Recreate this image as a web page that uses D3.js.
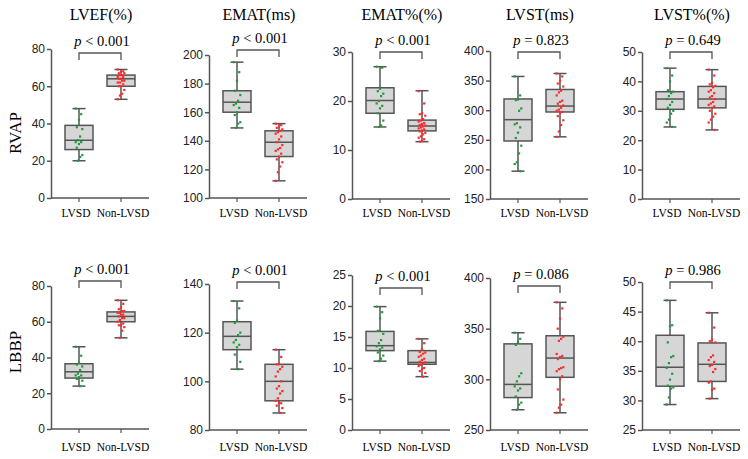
<!DOCTYPE html>
<html><head><meta charset="utf-8">
<script src="https://cdn.jsdelivr.net/npm/d3@7"></script>
<style>body{margin:0;background:#fff}svg{display:block}</style>
</head><body>
<svg id="c" width="748" height="459"></svg>
<script>
const metrics = ["LVEF(%)", "EMAT(ms)", "EMAT%(%)", "LVST(ms)", "LVST%(%)"];
const rowNames = ["RVAP", "LBBP"];
const groups = ["LVSD", "Non-LVSD"];
const pRVAP = ["p < 0.001", "p < 0.001", "p < 0.001", "p = 0.823", "p = 0.649"];
const pLBBP = ["p < 0.001", "p < 0.001", "p < 0.001", "p = 0.086", "p = 0.986"];
const domRVAP = [[0,80],[100,200],[0,30],[150,400],[0,50]];
const domLBBP = [[0,80],[80,140],[0,25],[250,400],[25,50]];
const ticksRVAP = [[0,20,40,60,80],[100,120,140,160,180,200],[0,10,20,30],[150,200,250,300,350,400],[0,10,20,30,40,50]];
const ticksLBBP = [[0,20,40,60,80],[80,100,120,140],[0,5,10,15,20,25],[250,300,350,400],[25,30,35,40,45,50]];

// box stats: [min, q1, median, q3, max]
const rvapLVSDStats = [[20,26,31,39,48],[149,160,167,175,195],[14.7,17.5,20.1,22.7,27],[197,248,284,319,357],[24.5,30.5,34,36.5,44.5]];
const rvapNonStats  = [[53,60,64,66,69],[112,129,139,147,152],[11.7,13.9,14.9,16.1,22.1],[255,297,307,335,362],[23.5,31,34,38.3,44]];
const lbbpLVSDStats = [[24,28.5,32,36.5,46],[105,113,118.5,124.5,133],[11.1,12.8,13.6,15.9,19.9],[270,282,295,335,346],[29.3,32.4,35.6,41,46.9]];
const lbbpNonStats  = [[51,60,63,65.5,72],[87,92,100,107,113],[8.6,10.6,10.9,12.8,14.7],[267,302,321,343,376],[30.3,33.2,36.1,39.7,44.8]];

const rvapLVSDPts = [
  [48,45,42,38,37,33,31,30,30,29,27,23,22,20],
  [195,188,182,175,172,168,166,165,163,160,158,153,152,149],
  [27,26.8,22.5,22,21.5,21,20,19.5,19,18.5,17.5,16,15,14.7],
  [357,325,318,317,303,299,278,276,271,262,253,240,227,212,209,197],
  [44.5,42,40,37,36.5,36,35,34,33,32,31,30,29,27,26,24.5]
];
const rvapNonPts = [
  [69,68,68,67,67,66,66,65,65,64,64,63,63,62,62,61,60,60,58,56,55,53],
  [152,151,150,149,148,147,146,145,143,141,139,137,135,134,133,131,129,127,125,122,118,112],
  [22,19.5,17.5,17.3,17,16.3,16,15.8,15.5,15.3,15.1,15,14.8,14.6,14.4,14.2,14,13.8,13.5,13.2,12.8,12.5,12.2,11.8,11.7],
  [362,357,350,345,340,333,330,325,316,314,311,308,304,301,299,297,296,290,283,275,264,255],
  [44,42,39.5,39,38.5,38,37,36.5,36,35,34.5,34,33,32.5,32,31.5,31,30,29,28,27,26,23.5]
];
const lbbpLVSDPts = [
  [46,41,37,36,35,33,31,30,30,29,28,27,24],
  [133,130,125,124,120,119,117,116,115,114,111,108,105],
  [19.9,19,18,16,15.5,14.5,14,13.5,13.3,13,12.5,12,11.5,11.1],
  [346,340,337,334,306,303,298,293,291,289,283,277,275,270],
  [46.9,42.7,42.5,39.8,37.5,37.3,36.3,35.5,34.5,33.5,32.5,32.2,32,30.5,29.3]
];
const lbbpNonPts = [
  [72,70,68,67,66,66,65,65,64,64,63,62,62,61,60,59,58,58,57,55,51],
  [113,110,107,107,106,105,104,102,100,98,97,96,95,93,92,91,91,90,89,87],
  [14.7,14,13,12.6,12.5,12.3,12,11.8,11.5,11.3,11,10.9,10.7,10.5,10.3,10,9.8,9.5,9.2,8.6],
  [376,370,360,350,342,340,338,325,323,322,320,312,311,310,308,303,300,290,280,275,272,267],
  [44.8,42.3,40.3,40,39.8,37.6,37.3,36.8,36.5,36,35.8,35.3,34.8,33.2,33,32,31.8,30.3]
];

const rowsData = [
  {name: rowNames[0], p: pRVAP, dom: domRVAP, ticks: ticksRVAP, stats: [rvapLVSDStats, rvapNonStats], pts: [rvapLVSDPts, rvapNonPts]},
  {name: rowNames[1], p: pLBBP, dom: domLBBP, ticks: ticksLBBP, stats: [lbbpLVSDStats, lbbpNonStats], pts: [lbbpLVSDPts, lbbpNonPts]}
];

// layout
const axisX = [51, 209, 352, 490, 642];
const topY = [[49,55,52,51,52],[286,284,275,278,282]];
const botY = [[198,198,199,199,199],[429,430,430,430,430]];
const bracketY = [[53,50,52,52,52],[281,282,288,286,282]];
const rowLabelY = [133, 352];
const xLabelY = [217, 451];
const labelShift = [-3, 2];
const colors = ["#1f9a3a", "#ff2b2b"];
const axisCol = "#555";
const serif = "'Liberation Serif','Times New Roman',serif";
const sans = "'Liberation Sans',Arial,sans-serif";

const svg = d3.select("#c");

rowsData.forEach((row, r) => {
  svg.append("text").attr("transform", `translate(17,${rowLabelY[r]}) rotate(-90)`)
    .attr("text-anchor","middle").attr("dominant-baseline","middle")
    .style("font-family", serif).style("font-size","17px").text(row.name);

  metrics.forEach((m, c) => {
    const g = svg.append("g");
    const y = d3.scaleLinear().domain(row.dom[c]).range([botY[r][c], topY[r][c]]);
    const x = d3.scalePoint().domain(groups).range([axisX[c] + 28, axisX[c] + 70]);
    const xEnd = axisX[c] + 98;

    if (r === 0) {
      g.append("text").attr("x", (x(groups[0]) + x(groups[1])) / 2 + 1).attr("y", 20)
        .attr("text-anchor","middle").style("font-family", serif).style("font-size","16px").text(m);
    }

    // y axis
    const ya = g.append("g").attr("transform", `translate(${axisX[c]},0)`)
      .call(d3.axisLeft(y).tickValues(row.ticks[c]).tickSize(4).tickPadding(2).tickSizeOuter(0));
    ya.select(".domain").attr("stroke", axisCol).attr("stroke-width", 1.5);
    ya.selectAll(".tick line").attr("stroke", axisCol).attr("stroke-width", 1.5);
    ya.selectAll(".tick text").style("font-family", sans).style("font-size","12px").attr("fill","#222");

    // x axis
    const xa = g.append("g").attr("transform", `translate(0,${botY[r][c]})`);
    xa.append("line").attr("x1", axisX[c]).attr("x2", xEnd).attr("stroke", axisCol).attr("stroke-width", 1.5);
    groups.forEach((gr, gi) => {
      xa.append("line").attr("x1", x(gr)).attr("x2", x(gr)).attr("y1", 0).attr("y2", 4).attr("stroke", axisCol).attr("stroke-width", 1.2);
      g.append("text").attr("x", x(gr) + labelShift[gi]).attr("y", xLabelY[r]).attr("text-anchor","middle")
        .style("font-family", serif).style("font-size","11.5px").text(gr);
    });

    // boxes
    groups.forEach((gr, gi) => {
      const s = row.stats[gi][c];
      const cx = x(gr), bw = 28, cw = 13;
      g.append("line").attr("x1", cx).attr("x2", cx).attr("y1", y(s[0])).attr("y2", y(s[4])).attr("stroke", axisCol).attr("stroke-width", 1.5);
      [s[0], s[4]].forEach(v => g.append("line").attr("x1", cx - cw/2).attr("x2", cx + cw/2).attr("y1", y(v)).attr("y2", y(v)).attr("stroke", axisCol).attr("stroke-width", 1.5));
      g.append("rect").attr("x", cx - bw/2).attr("width", bw).attr("y", y(s[3])).attr("height", y(s[1]) - y(s[3]))
        .attr("fill", "#d6d6d6").attr("stroke", axisCol).attr("stroke-width", 1.5);
      g.append("line").attr("x1", cx - bw/2).attr("x2", cx + bw/2).attr("y1", y(s[2])).attr("y2", y(s[2])).attr("stroke", axisCol).attr("stroke-width", 1.5);
      const pts = row.pts[gi][c];
      g.selectAll(null).data(pts).enter().append("rect")
        .attr("x", (d, i) => cx + (((i * 5) % 7) - 3) * 1.1 - 1.1)
        .attr("y", d => y(d) - 1.1).attr("width", 2.2).attr("height", 2.2)
        .attr("fill", colors[gi]);
    });

    // bracket
    const by = bracketY[r][c];
    g.append("path").attr("d", `M${x(groups[0])},${by + 7}V${by}H${x(groups[1])}V${by + 7}`)
      .attr("fill","none").attr("stroke", axisCol).attr("stroke-width", 1.3);
    const ptxt = g.append("text").attr("x", (x(groups[0]) + x(groups[1])) / 2 + 2).attr("y", by - 7)
      .attr("text-anchor","middle").style("font-family", serif).style("font-size","14.5px");
    const parts = row.p[c].split(" ");
    ptxt.append("tspan").style("font-style","italic").text(parts[0]);
    ptxt.append("tspan").text(" " + parts.slice(1).join(" "));
  });
});
</script>
</body></html>
